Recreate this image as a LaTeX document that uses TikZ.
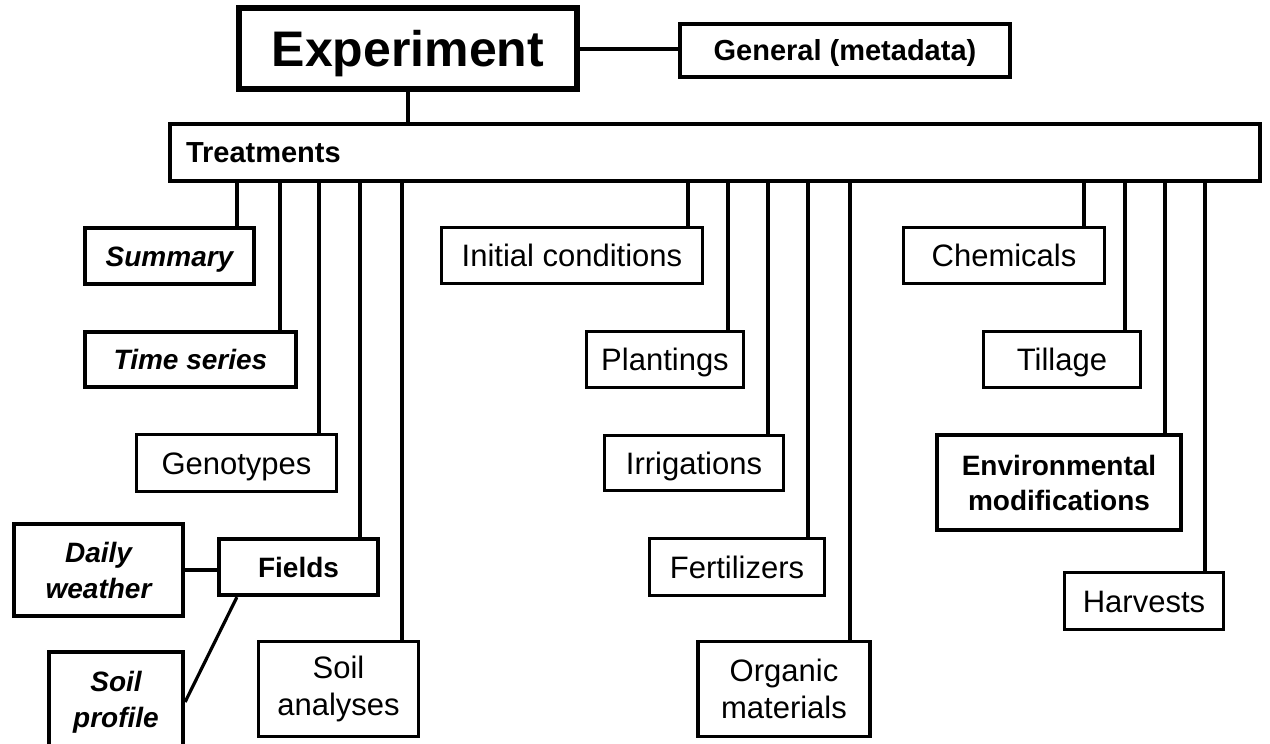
\documentclass[tikz,border=0pt]{standalone}
\usepackage{fontspec}
\setmainfont{Liberation Sans}
\begin{document}
\begin{tikzpicture}[x=1pt,y=-1pt,
  box/.style={draw, line width=3.2pt, inner sep=0pt, align=center,
    font=\fontsize{31}{37}\selectfont},
  bbox/.style={box, line width=4.2pt, font=\fontsize{28}{35}\selectfont\bfseries},
  ibox/.style={bbox, font=\fontsize{28}{36}\selectfont\bfseries\itshape},
  one/.style={text height=#1, text depth=0pt},
  one/.default=22.2pt,
  conn/.style={line width=3.2pt},
  sz/.style 2 args={minimum width=#1pt, minimum height=#2pt}]
\useasboundingbox (0,0) rectangle (1270,744);
\clip (0,0) rectangle (1270,744);

% top
\node[box, one=35.8pt, line width=6pt, sz={338}{81}, font=\fontsize{50}{56}\selectfont\bfseries] (exp) at (408,48.5) {Experiment};
\node[box, one=20.8pt, sz={330}{53}, font=\fontsize{29}{34}\selectfont\bfseries] (gen) at (845,50.5) {General (metadata)};
\node[box, one=20.8pt, line width=3.6pt, sz={1090}{57}, text width=1058pt, align=left,
  font=\fontsize{29}{34}\selectfont\bfseries] (treat) at (715,152.5) {Treatments};

% left group
\node[ibox, one=20pt, sz={169}{56}] (sum) at (169.5,256) {Summary};
\node[ibox, one=20pt, sz={211}{55}] (ts) at (190.5,359.5) {Time series};
\node[box, one, sz={200}{57}] (geno) at (236.5,463) {Genotypes};
\node[bbox, one=20pt, sz={159}{56}] (fields) at (298.5,567) {Fields};
\node[ibox, sz={169}{92}] (daily) at (98.5,570) {Daily\\weather};
\node[ibox, sz={134}{100}] (soilp) at (116,702) {Soil\\profile};
\node[box, sz={160}{95}] (soila) at (338.5,689) {Soil\\analyses};

% middle group
\node[box, one, sz={261}{56}] (init) at (572,255.5) {Initial conditions};
\node[box, one, sz={157}{56}] (plant) at (665,359.5) {Plantings};
\node[box, one, sz={179}{55}] (irr) at (694,463) {Irrigations};
\node[box, one, sz={175}{57}] (fert) at (737,567) {Fertilizers};
\node[box, sz={172}{95}] (org) at (784,689) {Organic\\materials};

% right group
\node[box, one, sz={201}{56}] (chem) at (1004,255.5) {Chemicals};
\node[box, one, sz={157}{56}] (till) at (1062,359.5) {Tillage};
\node[bbox, sz={244}{95}] (env) at (1059,482.5) {Environmental\\modifications};
\node[box, one, sz={159}{57}] (harv) at (1144,601) {Harvests};

% branch x positions
\coordinate (x1) at (237,0);
\coordinate (x2) at (280,0);
\coordinate (x3) at (319,0);
\coordinate (x4) at (360,0);
\coordinate (x5) at (402,0);
\coordinate (x6) at (688,0);
\coordinate (x7) at (728,0);
\coordinate (x8) at (768,0);
\coordinate (x9) at (808,0);
\coordinate (x10) at (850,0);
\coordinate (x11) at (1084,0);
\coordinate (x12) at (1125,0);
\coordinate (x13) at (1165,0);
\coordinate (x14) at (1205,0);

% connectors
\draw[conn, line width=4pt] (exp.east) -- (exp.east -| gen.west);
\draw[conn] (exp.south) -- (treat.north -| exp.south);
\draw[conn] (treat.south -| x1) -- (sum.north -| x1);
\draw[conn] (treat.south -| x2) -- (ts.north -| x2);
\draw[conn] (treat.south -| x3) -- (geno.north -| x3);
\draw[conn] (treat.south -| x4) -- (fields.north -| x4);
\draw[conn] (treat.south -| x5) -- (soila.north -| x5);
\draw[conn] (treat.south -| x6) -- (init.north -| x6);
\draw[conn] (treat.south -| x7) -- (plant.north -| x7);
\draw[conn] (treat.south -| x8) -- (irr.north -| x8);
\draw[conn] (treat.south -| x9) -- (fert.north -| x9);
\draw[conn] (treat.south -| x10) -- (org.north -| x10);
\draw[conn] (treat.south -| x11) -- (chem.north -| x11);
\draw[conn] (treat.south -| x12) -- (till.north -| x12);
\draw[conn] (treat.south -| x13) -- (env.north -| x13);
\draw[conn] (treat.south -| x14) -- (harv.north -| x14);
\draw[conn] (daily.east) -- (daily.east -| fields.west);
\draw[conn] ([xshift=20pt]fields.south west) -- (soilp.east);
\end{tikzpicture}
\end{document}
